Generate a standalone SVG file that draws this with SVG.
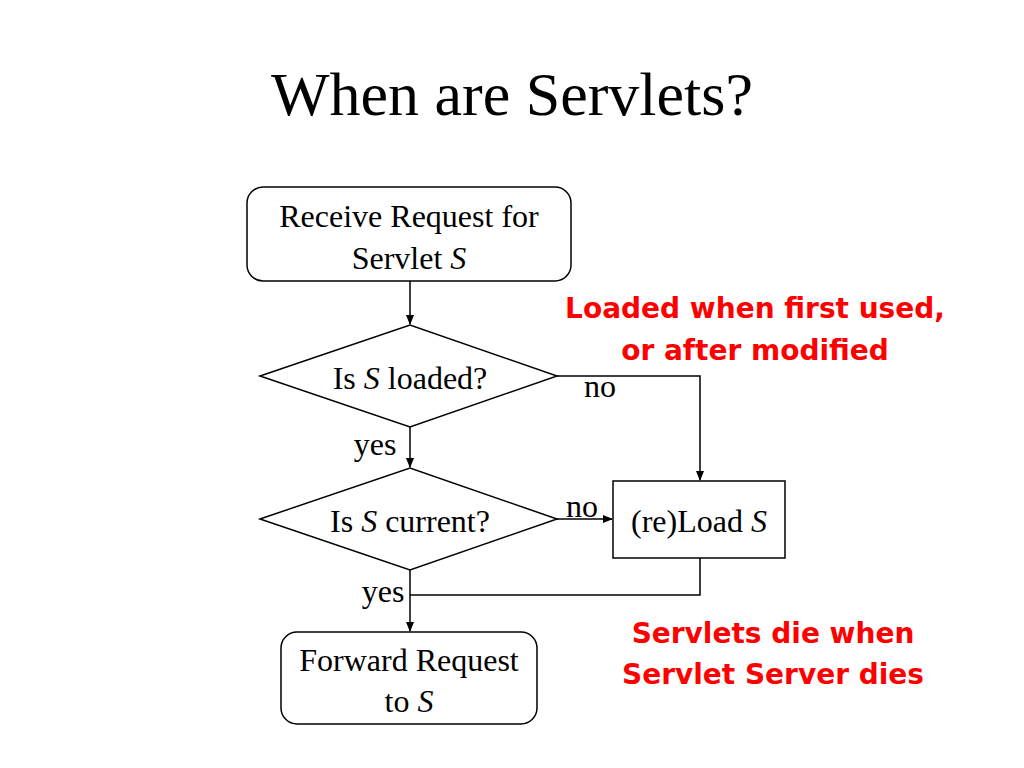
<svg xmlns="http://www.w3.org/2000/svg" width="1024" height="768" viewBox="0 0 1024 768">
<style>
.s{fill:#fff;stroke:#000;stroke-width:1.5}
.l{fill:none;stroke:#000;stroke-width:1.5}
.t{font-family:"Liberation Serif",serif;font-size:32px;text-anchor:middle;fill:#000}
.r{font-family:"DejaVu Sans",sans-serif;font-size:28px;font-weight:bold;text-anchor:middle;fill:#ff0000}
</style>
<defs><marker id="a" markerWidth="10" markerHeight="10" refX="9" refY="5" orient="auto" markerUnits="userSpaceOnUse"><path d="M0,1 L10,5 L0,9 Z" fill="#000"/></marker></defs>
<rect width="1024" height="768" fill="#fff"/>
<text x="512" y="115" font-family="Liberation Serif,serif" font-size="62" text-anchor="middle">When are Servlets?</text>
<g id="connectors">
<line class="l" x1="410" y1="281" x2="410" y2="324" marker-end="url(#a)"/>
<polyline class="l" points="557,376 700,376 700,480" marker-end="url(#a)"/>
<line class="l" x1="410" y1="427" x2="410" y2="467" marker-end="url(#a)"/>
<line class="l" x1="557" y1="519" x2="612" y2="519" marker-end="url(#a)"/>
<polyline class="l" points="700,558 700,595 410,595"/>
<line class="l" x1="410" y1="570" x2="410" y2="631" marker-end="url(#a)"/>
<text class="t" x="600" y="397">no</text>
<text class="t" x="375" y="455">yes</text>
<text class="t" x="582" y="517">no</text>
<text class="t" x="383" y="602">yes</text>
</g>
<g id="receive"><rect class="s" x="247" y="187" width="324" height="94" rx="16"/>
<text class="t" x="409" y="227">Receive Request for</text><text class="t" x="409" y="269">Servlet <tspan font-style="italic">S</tspan></text></g>
<g id="loaded"><polygon class="s" points="260,376 410,325 557,376 410,427"/>
<text class="t" x="410" y="389">Is <tspan font-style="italic">S</tspan> loaded?</text></g>
<g id="current"><polygon class="s" points="260,519 410,468 557,519 410,570"/>
<text class="t" x="410" y="532">Is <tspan font-style="italic">S</tspan> current?</text></g>
<g id="reload"><rect class="s" x="613" y="481" width="172" height="77"/>
<text class="t" x="699" y="532">(re)Load <tspan font-style="italic">S</tspan></text></g>
<g id="forward"><rect class="s" x="281" y="632" width="256" height="92" rx="16"/>
<text class="t" x="409" y="671">Forward Request</text><text class="t" x="409" y="712">to <tspan font-style="italic">S</tspan></text></g>
<g id="note1"><text class="r" x="755" y="318">Loaded when first used,</text><text class="r" x="755" y="360">or after modified</text></g>
<g id="note2"><text class="r" x="773" y="643">Servlets die when</text><text class="r" x="773" y="684">Servlet Server dies</text></g>
</svg>
